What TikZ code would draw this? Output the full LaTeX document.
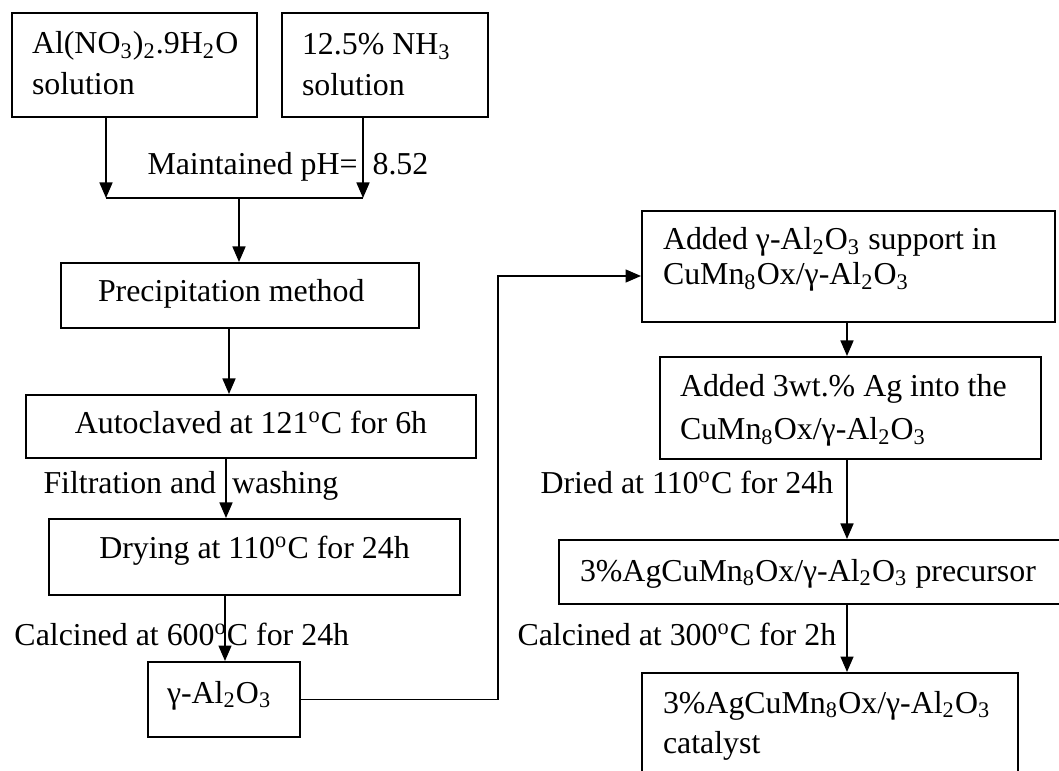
\documentclass[tikz,border=0pt]{standalone}
\usepackage{fontspec}
\setmainfont{Liberation Serif}
\usetikzlibrary{arrows.meta}
\newcommand{\degC}{\textsuperscript{o}C}
\newcommand{\alumina}{γ-Al\textsubscript{2}O\textsubscript{3}}
\newcommand{\cumn}{CuMn\textsubscript{8}Ox}

\begin{document}
\begin{tikzpicture}[x=0.4pt, y=-0.4pt,
    every node/.style={font=\fontsize{12.75pt}{16pt}\selectfont},
    box/.style={draw, line width=0.8pt, inner sep=0pt, align=flush left, text height=9pt},
    lskip/.style={font=\fontsize{12.75pt}{#1}\selectfont},
    flow/.style={line width=0.6pt, -{Triangle[length=6.2pt,width=5.2pt]}},
    lbl/.style={anchor=base west, inner sep=0pt}]
    \useasboundingbox (0,0) rectangle (1059,771);

    % left column
    \node[box, lskip=16.4pt, minimum width=98pt, minimum height=41.6pt, text width=82pt, text depth=17.8pt] (salt) at (134.5,65) {Al(NO\textsubscript{3})\textsubscript{2}.9H\textsubscript{2}O\\solution};
    \node[box, lskip=16.4pt, minimum width=82.4pt, minimum height=41.6pt, text width=66.4pt, text depth=17pt] (ammonia) at (385,65) {12.5\% NH\textsubscript{3}\\solution};
    \node[box, minimum width=143.2pt, minimum height=26pt, text width=113.6pt, text depth=3.8pt] (prec) at (240,295.5) {Precipitation method};
    \node[box, align=flush center, minimum width=180pt, minimum height=25.2pt, text width=160pt, text depth=3.8pt] (auto) at (251,426.5) {Autoclaved at 121\degC{} for 6h};
    \node[box, align=flush center, minimum width=164.4pt, minimum height=30.4pt, text width=150pt, text depth=8.2pt] (dry) at (254.5,557) {Drying at 110\degC{} for 24h};
    \node[box, minimum width=60.8pt, minimum height=30pt, text width=45.6pt, text depth=6.2pt] (gam) at (224,699.5) {\alumina};

    % right column
    \node[box, lskip=14pt, minimum width=165.2pt, minimum height=44.4pt, text width=148.4pt, text depth=22.2pt] (add) at (848.5,266.5) {Added \alumina{} support in\\\cumn/\alumina};
    \node[box, lskip=17.2pt, minimum width=152.4pt, minimum height=40.8pt, text width=136.4pt, text depth=17.8pt] (ag) at (850.5,408) {Added 3wt.\% Ag into the\\\cumn/\alumina};
    \node[box, minimum width=216.4pt, minimum height=25.6pt, text width=199.6pt, text depth=1.8pt] (pre) at (829.5,572) {3\%Ag\cumn/\alumina{} precursor};
    \node[box, lskip=16pt, minimum width=150.4pt, minimum height=46.8pt, text width=133.6pt, text depth=23.8pt] (cat) at (830,731.5) {3\%Ag\cumn/\alumina\\catalyst};

    % labels
    \node[lbl] (ph) at (147,175) {Maintained pH=\hspace{6pt}8.52};
    \node[lbl] (filt) at (43,493) {Filtration and\hspace{6.4pt}washing};
    \node[lbl] (calcA) at (14,645) {Calcined at 600\degC{} for 24h};
    \node[lbl] (dried) at (540,493) {Dried at 110\degC{} for 24h};
    \node[lbl] (calcB) at (517,645) {Calcined at 300\degC{} for 2h};

    \coordinate (jL) at (106,198); \coordinate (jR) at (363,198); \coordinate (jM) at (239,198);
    \coordinate (c1) at (229,0); \coordinate (c2) at (226,0); \coordinate (c3) at (225,0);
    \coordinate (c4) at (847,0); \coordinate (bend) at (498,276);

    \draw[flow] (salt.south -| jL) -- (jL);
    \draw[flow] (ammonia.south -| jR) -- (jR);
    \draw[line width=0.6pt] (jL) -- (jR);
    \draw[flow] (jM) -- (jM |- prec.north);
    \draw[flow] (prec.south -| c1) -- (auto.north -| c1);
    \draw[flow] (auto.south -| c2) -- (dry.north -| c2);
    \draw[flow] (dry.south -| c3) -- (gam.north -| c3);
    \draw[flow] (gam.east) -| (bend) -- (bend -| add.west);
    \draw[flow] (add.south -| c4) -- (ag.north -| c4);
    \draw[flow] (ag.south -| c4) -- (pre.north -| c4);
    \draw[flow] (pre.south -| c4) -- (cat.north -| c4);
\end{tikzpicture}
\end{document}
